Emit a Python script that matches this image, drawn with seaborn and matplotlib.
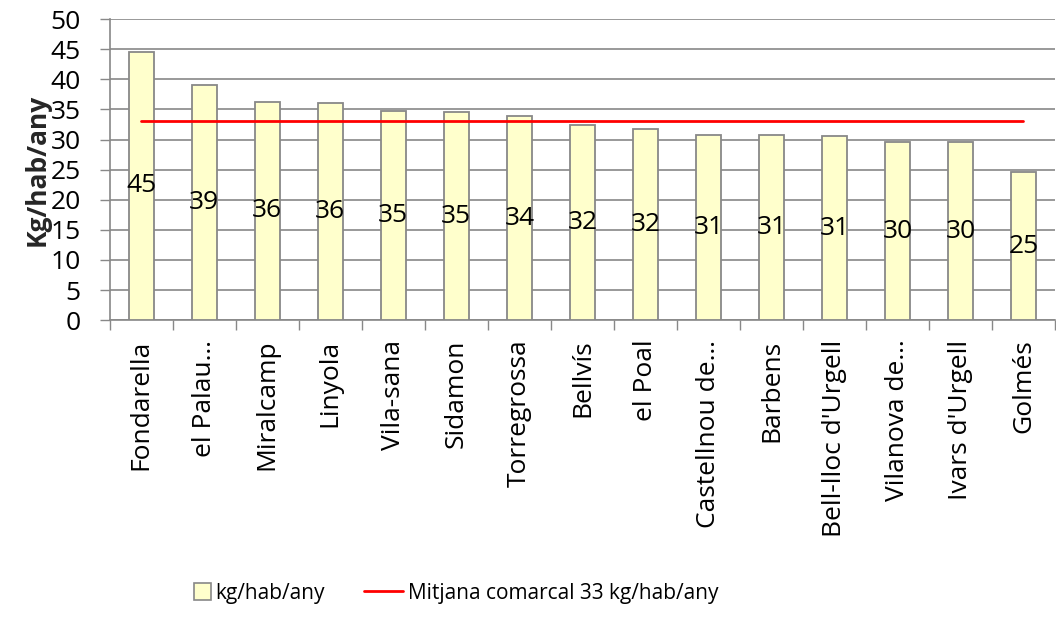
import numpy as np
import pandas as pd
import seaborn as sns
import matplotlib.pyplot as plt
from matplotlib.patches import Patch, Rectangle
from matplotlib.lines import Line2D
from matplotlib.legend_handler import HandlerPatch

# dades llegides del gràfic
municipis = ["Fondarella", "el Palau…", "Miralcamp", "Linyola", "Vila-sana",
             "Sidamon", "Torregrossa", "Bellvís", "el Poal", "Castellnou de…",
             "Barbens", "Bell-lloc d'Urgell", "Vilanova de…", "Ivars d'Urgell", "Golmés"]
kg_hab_any = [44.6, 39.0, 36.3, 36.0, 34.8, 34.55, 33.9, 32.4, 31.8, 30.8,
              30.7, 30.6, 29.6, 29.52, 24.55]
mitjana = 33.0
y_ticks = list(range(0, 51, 5))

GRIS = "#888888"
GROC = "#FFFFCC"
VERMELL = "#FF0000"

sns.set_style("white")
plt.rcParams["font.family"] = ["Open Sans", "DejaVu Sans"]
plt.rcParams["text.color"] = "black"
plt.rcParams["xtick.labelcolor"] = "black"
plt.rcParams["ytick.labelcolor"] = "black"

df = pd.DataFrame({"municipi": municipis, "valor": kg_hab_any})

fig, ax = plt.subplots(figsize=(10.56, 6.18), dpi=100)
fig.subplots_adjust(left=0.104, right=0.999, top=0.969, bottom=0.482)

sns.barplot(data=df, x="municipi", y="valor", color=GROC, saturation=1,
            width=0.4, edgecolor=GRIS, linewidth=1.3, ax=ax, zorder=3)
ax.bar_label(ax.containers[0], fmt="%.0f", label_type="center", fontsize=19,
             color="black", zorder=5)

# línia de la mitjana comarcal
ax.plot([municipis[0], municipis[-1]], [mitjana, mitjana], color=VERMELL, lw=2, zorder=4)

ax.set_ylim(0, 50)
ax.set_xlim(-0.5, len(municipis) - 0.5)
ax.set_yticks(y_ticks)
ax.tick_params(axis="y", labelsize=19, length=7, color=GRIS, width=1, pad=14,
               direction="out", left=True)
ax.set_xticks(range(len(municipis)))
ax.set_xticklabels(municipis, rotation=90, fontsize=19)
ax.tick_params(axis="x", which="major", length=0, pad=14)
ax.set_xticks(np.arange(-0.5, len(municipis), 1), minor=True)
ax.tick_params(axis="x", which="minor", length=7, color=GRIS, width=1,
               direction="out", bottom=True)

ax.grid(axis="y", color=GRIS, lw=1.2, zorder=0)
ax.set_axisbelow(True)
for s in ["top", "right"]:
    ax.spines[s].set_visible(False)
for s in ["left", "bottom"]:
    ax.spines[s].set_color(GRIS)
    ax.spines[s].set_linewidth(1.2)

ax.set_xlabel("")
ax.set_ylabel("Kg/hab/any", fontsize=19, fontweight="bold", labelpad=0)


def quadrat(legend, orig_handle, xdescent, ydescent, width, height, fontsize):
    costat = height * 1.15
    return Rectangle((-xdescent + width - costat, -ydescent + (height - costat) / 2),
                     costat, costat)


handles = [Patch(facecolor=GROC, edgecolor=GRIS, linewidth=1.2, label="kg/hab/any"),
           Line2D([0], [0], color=VERMELL, lw=2, label="Mitjana comarcal 33 kg/hab/any")]
fig.legend(handles=handles, loc="center", bbox_to_anchor=(0.421, 0.04), ncol=2,
           frameon=False, fontsize=15, handlelength=1.9, handletextpad=0.2,
           columnspacing=1.9, handler_map={Patch: HandlerPatch(patch_func=quadrat)})

fig.savefig("out.png", dpi=100)
